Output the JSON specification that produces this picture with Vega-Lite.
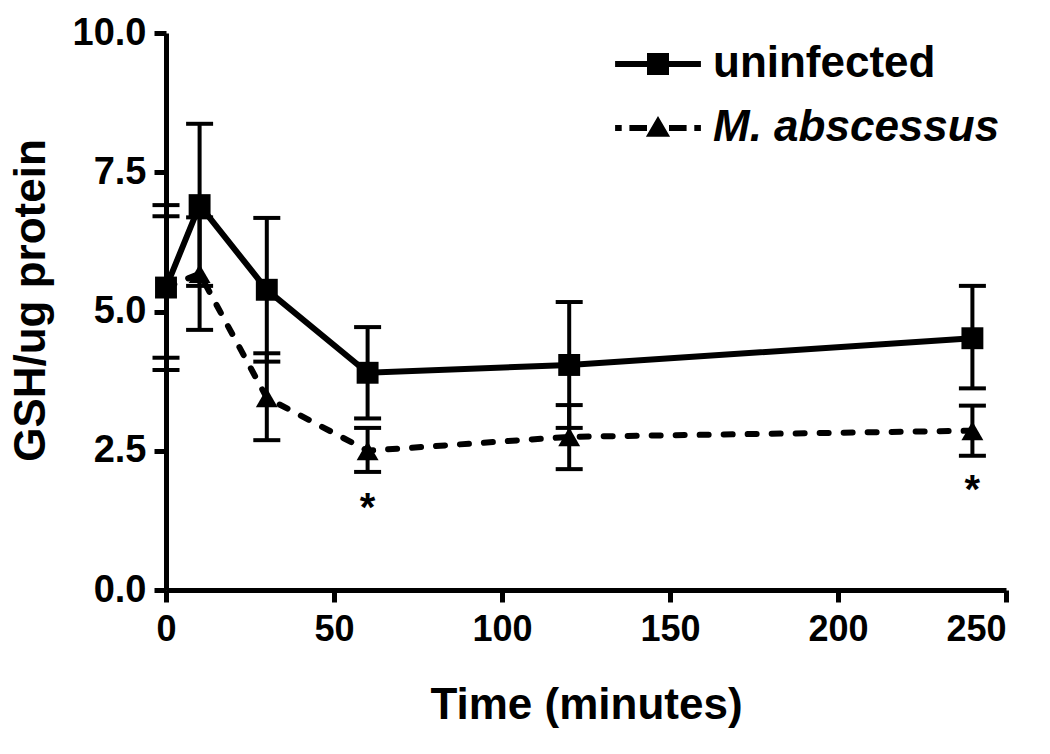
{
  "$schema": "https://vega.github.io/schema/vega-lite/v6.json",
  "width": 840,
  "height": 557,
  "autosize": {"type": "none"},
  "padding": {"left": 166, "top": 33, "right": 44, "bottom": 164},
  "background": "white",
  "config": {
    "view": {"stroke": null},
    "font": "Liberation Sans",
    "axis": {
      "grid": false,
      "domainColor": "black",
      "domainWidth": 5,
      "tickColor": "black",
      "tickWidth": 5,
      "tickSize": 12,
      "labelFont": "Liberation Sans",
      "labelFontWeight": "bold",
      "labelColor": "black",
      "titleFont": "Liberation Sans",
      "titleFontWeight": "bold",
      "titleColor": "black"
    },
    "legend": {
      "labelFont": "Liberation Sans",
      "labelFontSize": 44,
      "labelFontWeight": "bold",
      "labelColor": "black",
      "labelLimit": 500,
      "labelOffset": 33,
      "padding": 0,
      "symbolSize": 484,
      "symbolOpacity": 1,
      "symbolFillColor": "black",
      "symbolStrokeWidth": 0
    }
  },
  "resolve": {"scale": {"shape": "independent"}, "legend": {"shape": "independent"}},
  "datasets": {
    "stats": [
      {"group": "uninfected", "time": 0, "mean": 5.43, "lo": 3.95, "hi": 6.91},
      {"group": "uninfected", "time": 10, "mean": 6.91, "lo": 5.46, "hi": 8.37},
      {"group": "uninfected", "time": 30, "mean": 5.39, "lo": 4.10, "hi": 6.68},
      {"group": "uninfected", "time": 60, "mean": 3.90, "lo": 3.08, "hi": 4.72},
      {"group": "uninfected", "time": 120, "mean": 4.04, "lo": 2.91, "hi": 5.17},
      {"group": "uninfected", "time": 240, "mean": 4.52, "lo": 3.62, "hi": 5.46},
      {"group": "M. abscessus", "time": 0, "mean": 5.43, "lo": 4.17, "hi": 6.71},
      {"group": "M. abscessus", "time": 10, "mean": 5.68, "lo": 4.67, "hi": 6.69},
      {"group": "M. abscessus", "time": 30, "mean": 3.45, "lo": 2.69, "hi": 4.25},
      {"group": "M. abscessus", "time": 60, "mean": 2.50, "lo": 2.12, "hi": 2.91},
      {"group": "M. abscessus", "time": 120, "mean": 2.75, "lo": 2.17, "hi": 3.32},
      {"group": "M. abscessus", "time": 240, "mean": 2.86, "lo": 2.41, "hi": 3.31}
    ],
    "notes": [
      {"time": 60, "value": 1.45, "label": "*"},
      {"time": 240, "value": 1.78, "label": "*"}
    ]
  },
  "layer": [
    {
      "data": {"name": "stats"},
      "mark": {"type": "rule", "color": "black", "strokeWidth": 4},
      "encoding": {
        "x": {
          "field": "time", "type": "quantitative",
          "scale": {"domain": [0, 250], "nice": false, "zero": false},
          "axis": {
            "values": [0, 50, 100, 150, 200, 250],
            "labelFontSize": 36,
            "labelPadding": 10,
            "labelFlush": false,
            "labelAlign": {"condition": {"test": "datum.value === 250", "value": "right"}, "value": "center"},
            "title": "Time (minutes)",
            "titleFontSize": 44,
            "titlePadding": 36
          }
        },
        "y": {
          "field": "lo", "type": "quantitative",
          "scale": {"domain": [0, 10], "nice": false},
          "axis": {
            "values": [0, 2.5, 5, 7.5, 10],
            "format": ".1f",
            "labelFontSize": 38,
            "labelPadding": 8,
            "title": "GSH/ug protein",
            "titleFontSize": 44,
            "titlePadding": 19,
            "titleY": 267
          }
        },
        "y2": {"field": "hi"}
      }
    },
    {
      "data": {"name": "stats"},
      "mark": {"type": "tick", "orient": "horizontal", "color": "black", "opacity": 1, "thickness": 4, "size": 27},
      "encoding": {
        "x": {"field": "time", "type": "quantitative"},
        "y": {"field": "lo", "type": "quantitative"}
      }
    },
    {
      "data": {"name": "stats"},
      "mark": {"type": "tick", "orient": "horizontal", "color": "black", "opacity": 1, "thickness": 4, "size": 27},
      "encoding": {
        "x": {"field": "time", "type": "quantitative"},
        "y": {"field": "hi", "type": "quantitative"}
      }
    },
    {
      "data": {"name": "stats"},
      "transform": [{"filter": "datum.group === 'uninfected'"}],
      "mark": {"type": "line", "color": "black", "strokeWidth": 6},
      "encoding": {
        "x": {"field": "time", "type": "quantitative"},
        "y": {"field": "mean", "type": "quantitative"}
      }
    },
    {
      "data": {"name": "stats"},
      "transform": [{"filter": "datum.group === 'M. abscessus'"}],
      "mark": {"type": "line", "color": "black", "strokeWidth": 6, "strokeCap": "round", "strokeDash": [9, 15]},
      "encoding": {
        "x": {"field": "time", "type": "quantitative"},
        "y": {"field": "mean", "type": "quantitative"}
      }
    },
    {
      "data": {"name": "stats"},
      "mark": {"type": "point", "filled": true, "color": "black", "opacity": 1, "size": 480},
      "encoding": {
        "x": {"field": "time", "type": "quantitative"},
        "y": {"field": "mean", "type": "quantitative"},
        "shape": {
          "field": "group", "type": "nominal",
          "scale": {"domain": ["uninfected", "M. abscessus"], "range": ["square", "triangle-up"]},
          "legend": null
        }
      }
    },
    {
      "data": {"name": "stats"},
      "transform": [{"filter": "datum.group === 'uninfected'"}],
      "mark": {"type": "point", "filled": true, "color": "black", "opacity": 0},
      "encoding": {
        "x": {"field": "time", "type": "quantitative"},
        "y": {"field": "mean", "type": "quantitative"},
        "shape": {
          "field": "group", "type": "nominal",
          "scale": {"domain": ["uninfected"], "range": ["M-3.9,-0.27H3.9V0.27H-3.9Z M-1,-1H1V1H-1Z"]},
          "legend": {
            "title": null,
            "orient": "none",
            "legendX": 470,
            "legendY": 9,
            "labelFontStyle": "normal"
          }
        }
      }
    },
    {
      "data": {"name": "stats"},
      "transform": [{"filter": "datum.group === 'M. abscessus'"}],
      "mark": {"type": "point", "filled": true, "color": "black", "opacity": 0},
      "encoding": {
        "x": {"field": "time", "type": "quantitative"},
        "y": {"field": "mean", "type": "quantitative"},
        "shape": {
          "field": "group", "type": "nominal",
          "scale": {"domain": ["M. abscessus"], "range": ["M-3.9,-0.27H-3.3V0.27H-3.9Z M-2.6,-0.27H-1.0V0.27H-2.6Z M1.0,-0.27H2.6V0.27H1.0Z M3.3,-0.27H3.9V0.27H3.3Z M0,-1.1L1.1,0.8H-1.1Z"]},
          "legend": {
            "title": null,
            "orient": "none",
            "legendX": 470,
            "legendY": 73,
            "labelFontStyle": "italic"
          }
        }
      }
    },
    {
      "data": {"name": "notes"},
      "mark": {"type": "text", "color": "black", "fontSize": 40, "fontWeight": "bold", "baseline": "middle", "font": "Liberation Sans"},
      "encoding": {
        "x": {"field": "time", "type": "quantitative"},
        "y": {"field": "value", "type": "quantitative"},
        "text": {"field": "label"}
      }
    }
  ]
}
